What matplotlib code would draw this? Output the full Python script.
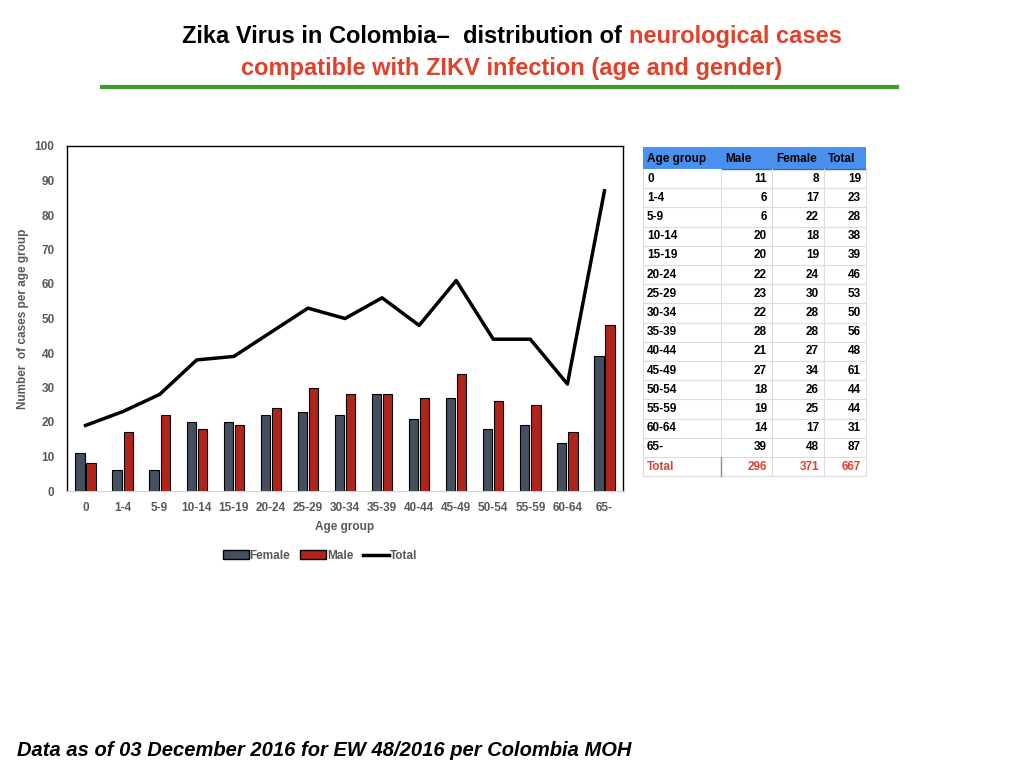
import numpy as np
import matplotlib
matplotlib.use("Agg")
import matplotlib.pyplot as plt
from matplotlib.lines import Line2D
from matplotlib.patches import Rectangle, Patch

plt.rcParams["font.family"] = ["Liberation Sans", "DejaVu Sans"]

age_groups = ["0", "1-4", "5-9", "10-14", "15-19", "20-24", "25-29", "30-34",
              "35-39", "40-44", "45-49", "50-54", "55-59", "60-64", "65-"]
# bars as drawn in the reference (legend labels kept as in the picture)
female_bar = [11, 6, 6, 20, 20, 22, 23, 22, 28, 21, 27, 18, 19, 14, 39]
male_bar = [8, 17, 22, 18, 19, 24, 30, 28, 28, 27, 34, 26, 25, 17, 48]
total = [19, 23, 28, 38, 39, 46, 53, 50, 56, 48, 61, 44, 44, 31, 87]

# table columns
tbl_male = female_bar
tbl_female = male_bar
tbl_sums = [296, 371, 667]

RED = "#e0412b"
DARK = "#44505f"
BAR_RED = "#b0241c"
GRAY = "#595959"

fig = plt.figure(figsize=(10.24, 7.68), dpi=100)

# ---- title ----
fig.canvas.draw()
r = fig.canvas.get_renderer()
t1 = fig.text(0, 0, "Zika Virus in Colombia\u2013  distribution of ", fontsize=17,
              fontweight="bold", color="black", va="baseline")
t2 = fig.text(0, 0, "neurological cases", fontsize=17, fontweight="bold",
              color=RED, va="baseline")
w1 = t1.get_window_extent(r).width / 1024
w2 = t2.get_window_extent(r).width / 1024
x0 = 0.5 - (w1 + w2) / 2
y1 = 1 - 43 / 768
t1.set_position((x0, y1))
t2.set_position((x0 + w1, y1))
fig.text(0.5, 1 - 75 / 768, "compatible with ZIKV infection (age and gender)",
         fontsize=17, fontweight="bold", color=RED, ha="center", va="baseline")
fig.add_artist(Line2D([102 / 1024, 897 / 1024], [1 - 87 / 768] * 2,
                      color="#3e9a2c", lw=3))

fig.text(17 / 1024, 1 - 751 / 768,
         "Data as of 03 December 2016 for EW 48/2016 per Colombia MOH",
         fontsize=14.5, fontweight="bold", fontstyle="italic", va="center")

# ---- chart ----
ax = fig.add_axes([67 / 1024, 1 - 491 / 768, 556 / 1024, 345 / 768])
x = np.arange(len(age_groups))
bw = 0.25
ax.bar(x - 0.15, female_bar, bw, color=DARK, edgecolor="black", lw=0.8,
       label="Female")
ax.bar(x + 0.15, male_bar, bw, color=BAR_RED, edgecolor="black", lw=0.8,
       label="Male")
ax.plot(x, total, color="black", lw=2.5, label="Total")
ax.set_xlim(-0.5, len(age_groups) - 0.5)
ax.set_ylim(0, 100)
ax.set_yticks(range(0, 101, 10))
ax.set_xticks(x)
ax.set_xticklabels(age_groups)
for lab in ax.get_xticklabels() + ax.get_yticklabels():
    lab.set_fontweight("bold")
    lab.set_color(GRAY)
    lab.set_fontsize(8.5)
ax.tick_params(axis="x", length=0, pad=8)
ax.tick_params(axis="y", length=0, pad=9)
ax.spines["bottom"].set_color("#d0d0d0")
for sp in ["top", "right", "left"]:
    ax.spines[sp].set_linewidth(1)
ax.set_xlabel("Age group", fontsize=8.5, fontweight="bold", color=GRAY, labelpad=5)
ax.set_ylabel("Number  of cases per age group", fontsize=8.5, fontweight="bold",
              color=GRAY, labelpad=4)
handles = [Patch(facecolor=DARK, edgecolor="black", label="Female"),
           Patch(facecolor=BAR_RED, edgecolor="black", label="Male"),
           Line2D([], [], color="black", lw=2.5, label="Total")]
leg = fig.legend(handles=handles, loc="center", ncol=3, frameon=False,
                 bbox_to_anchor=(320 / 1024, 1 - 556 / 768), fontsize=8.5,
                 handlelength=2.2, handleheight=0.8, handletextpad=0.1,
                 columnspacing=0.8)
for t in leg.get_texts():
    t.set_fontweight("bold")
    t.set_color(GRAY)

# ---- table ----
tx = fig.add_axes([0, 0, 1, 1])
tx.set_xlim(0, 1024)
tx.set_ylim(768, 0)
tx.axis("off")
cols = [643, 721, 772, 824, 866]
top, hdr_bot, row_h = 147, 169, 19.2
tx.add_patch(Rectangle((cols[0], top), cols[-1] - cols[0], hdr_bot - top,
                       color="#4a90ee", lw=0))
tx.plot([cols[1], cols[-1]], [hdr_bot, hdr_bot], color="#2f6fc8", lw=1)
headers = ["Age group", "Male", "Female", "Total"]
for i, h in enumerate(headers):
    tx.text(cols[i] + 4, (top + hdr_bot) / 2 + 1, h, fontsize=8.5,
            fontweight="bold", ha="left", va="center")
rows = [[a, m, f, t] for a, m, f, t in zip(age_groups, tbl_male, tbl_female, total)]
rows.append(["Total"] + tbl_sums)
n = len(rows)
for k, row in enumerate(rows):
    yc = hdr_bot + row_h * (k + 0.5)
    col = RED if k == n - 1 else "black"
    tx.text(cols[0] + 4, yc, row[0], fontsize=8.5, fontweight="bold",
            color=col, ha="left", va="center")
    for j in range(1, 4):
        tx.text(cols[j + 1] - 5, yc, str(row[j]), fontsize=8.5, fontweight="bold",
                color=col, ha="right", va="center")
    yb = hdr_bot + row_h * (k + 1)
    tx.plot([cols[0], cols[-1]], [yb, yb], color="#dcdcdc", lw=0.8)
bottom = hdr_bot + row_h * n
for j, cx in enumerate(cols):
    tx.plot([cx, cx], [hdr_bot, bottom], color="#dcdcdc", lw=0.8)
tx.plot([cols[1], cols[1]], [bottom - row_h, bottom], color="#909090", lw=1)

fig.savefig("out.png", dpi=100)
